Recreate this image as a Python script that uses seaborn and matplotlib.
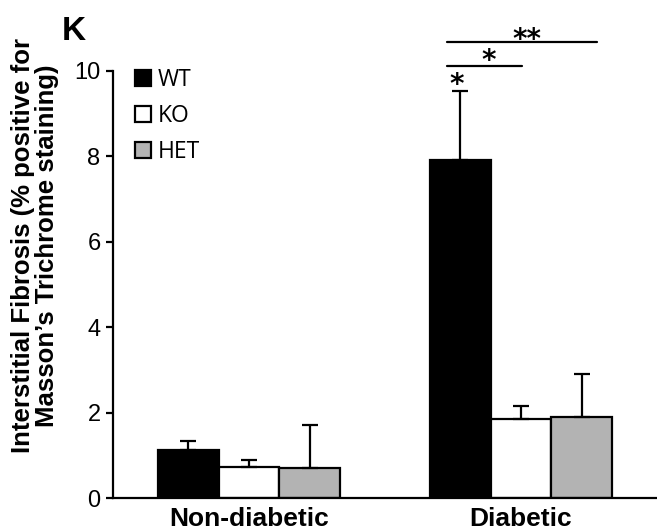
import matplotlib
matplotlib.use('Agg')
import matplotlib.pyplot as plt
import seaborn as sns
import pandas as pd

groups = ['Non-diabetic', 'Diabetic']
genotypes = ['WT', 'KO', 'HET']
wt_mean = [1.14, 7.90]
ko_mean = [0.74, 1.86]
het_mean = [0.72, 1.89]
wt_err = [0.20, 1.63]
ko_err = [0.15, 0.30]
het_err = [1.00, 1.01]
bar_colors = ['black', 'white', '#b3b3b3']

df = pd.DataFrame({
    'group': groups * 3,
    'genotype': [g for g in genotypes for _ in groups],
    'value': wt_mean + ko_mean + het_mean,
})
errs = [wt_err, ko_err, het_err]

sns.set_style('white')
plt.rcParams['font.family'] = ['Liberation Sans', 'DejaVu Sans']
for key in ['text.color', 'axes.labelcolor', 'xtick.color', 'ytick.color', 'axes.edgecolor']:
    plt.rcParams[key] = 'black'

fig = plt.figure(figsize=(6.57, 5.31), dpi=100)
ax = fig.add_axes([0.172, 0.0616, 0.828, 0.8053])

sns.barplot(data=df, x='group', y='value', hue='genotype', order=groups, hue_order=genotypes,
            palette=bar_colors, edgecolor='black', linewidth=1.6, errorbar=None, width=0.67,
            saturation=1, ax=ax)

# upper-only error bars at bar centres
for cont, err in zip(ax.containers, errs):
    xs = [p.get_x() + p.get_width() / 2 for p in cont.patches]
    ys = [p.get_height() for p in cont.patches]
    ax.errorbar(xs, ys, yerr=[[0] * len(err), err], fmt='none', ecolor='black',
                elinewidth=1.6, capsize=5.5, capthick=1.6, zorder=1)

ax.set_xlim(-0.5, 1.5)
ax.set_ylim(0, 10)
ax.set_yticks([0, 2, 4, 6, 8, 10])
ax.tick_params(axis='y', labelsize=17, length=5, width=1.6, direction='out', left=True, pad=4)
ax.tick_params(axis='x', length=0, pad=6)
ax.set_xticks([0, 1])
ax.set_xticklabels(groups, fontsize=19, fontweight='bold')
ax.set_xlabel('')
ax.set_ylabel('Interstitial Fibrosis (% positive for\nMasson\u2019s Trichrome staining)',
              fontsize=18.5, fontweight='bold', linespacing=1.0)
ax.yaxis.set_label_coords(-0.10, 0.59)
sns.despine(ax=ax)
ax.spines['left'].set_linewidth(1.6)
ax.spines['bottom'].set_linewidth(1.6)

# significance annotations
sig_lines = [(0.727, 1.28, 10.68), (0.727, 1.004, 10.11)]
for x0, x1, yv in sig_lines:
    ax.plot([x0, x1], [yv, yv], color='black', lw=1.6, clip_on=False)
star_kw = dict(ha='center', va='baseline', fontsize=20, fontweight='bold',
               family='DejaVu Sans', clip_on=False)
ax.text(1.023, 10.53, '**', **star_kw)
ax.text(0.881, 10.03, '*', **star_kw)
ax.text(0.765, 9.48, '*', **star_kw)

handles, labels = ax.get_legend_handles_labels()
ax.legend(handles, labels, loc='upper left', bbox_to_anchor=(0.041, 1.006), frameon=False,
          prop={'family': 'Open Sans', 'size': 16.5}, handlelength=0.68, handleheight=0.68,
          handletextpad=0.3, labelspacing=0.52, borderpad=0, borderaxespad=0)

fig.text(0.094, 0.97, 'K', fontsize=24, fontweight='bold', ha='left', va='top')

plt.savefig('out.png', dpi=100)
